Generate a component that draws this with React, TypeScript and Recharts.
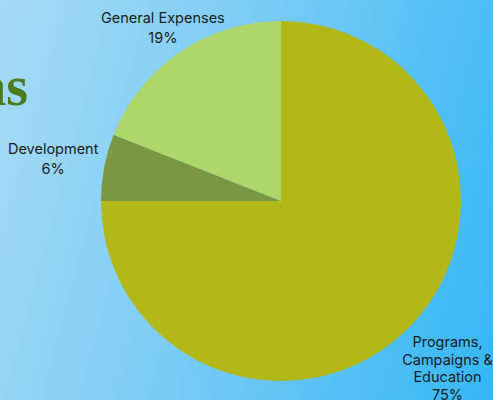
import React from "react";
import { PieChart, Pie, Cell } from "recharts";

const categories = ["Programs, Campaigns & Education", "Development", "General Expenses"];
const values = [75, 6, 19];
const labelLines = [["Programs,", "Campaigns &", "Education"], ["Development"], ["General Expenses"]];
const colors = ["#b2b817", "#7b9742", "#add66b"];

const data = categories.map((name, i) => ({ name, value: values[i] }));

const FONT = "Inter, 'Noto Sans', sans-serif";

const renderLabel = (props: any) => {
  const { cx, cy, midAngle, outerRadius, index } = props;
  const lines: string[] = [...labelLines[index], `${values[index]}%`];
  const lh = lines.length > 2 ? 17.5 : 20;
  const rad = (-midAngle * Math.PI) / 180;
  const ux = Math.cos(rad);
  const uy = Math.sin(rad);
  const longest = Math.max(...lines.map((l) => l.length));
  const hw = longest * 4.1;
  const hh = (lines.length * lh) / 2;
  const edge = Math.min(Math.abs(ux) > 1e-6 ? hw / Math.abs(ux) : 1e9, Math.abs(uy) > 1e-6 ? hh / Math.abs(uy) : 1e9);
  const d = outerRadius + 6 + edge;
  const x = cx + d * ux;
  const y = cy + d * uy;
  const top = y - ((lines.length - 1) * lh) / 2;
  return (
    <text x={x} y={top} textAnchor="middle" dominantBaseline="central" fill="#1b1b1b" fontFamily={FONT} fontSize={14.5}>
      {lines.map((l, i) => (
        <tspan key={i} x={x} y={top + i * lh}>
          {l}
        </tspan>
      ))}
    </text>
  );
};

export default function App() {
  return (
    <div
      style={{
        position: "fixed",
        left: 0,
        top: 0,
        width: 493,
        height: 400,
        overflow: "hidden",
        background: "linear-gradient(105deg, #a6dbf4 0%, #7fcdf5 40%, #35b7f6 100%)",
      }}
    >
      <svg width={493} height={400} style={{ position: "absolute", left: 0, top: 0 }}>
        <text
          x={28}
          y={105}
          textAnchor="end"
          fontFamily="'Liberation Serif', serif"
          fontWeight="bold"
          fontSize={56}
          fill="#4b7a1f"
        >
          as
        </text>
      </svg>
      <div style={{ position: "absolute", left: 0, top: 0 }}>
        <PieChart width={493} height={400} margin={{ top: 0, right: 0, bottom: 0, left: 0 }}>
          <Pie
            data={data}
            dataKey="value"
            nameKey="name"
            cx={281}
            cy={201}
            outerRadius={180}
            startAngle={90}
            endAngle={-270}
            stroke="none"
            labelLine={false}
            label={renderLabel}
            isAnimationActive={false}
          >
            {data.map((d, i) => (
              <Cell key={d.name} fill={colors[i]} />
            ))}
          </Pie>
        </PieChart>
      </div>
    </div>
  );
}
